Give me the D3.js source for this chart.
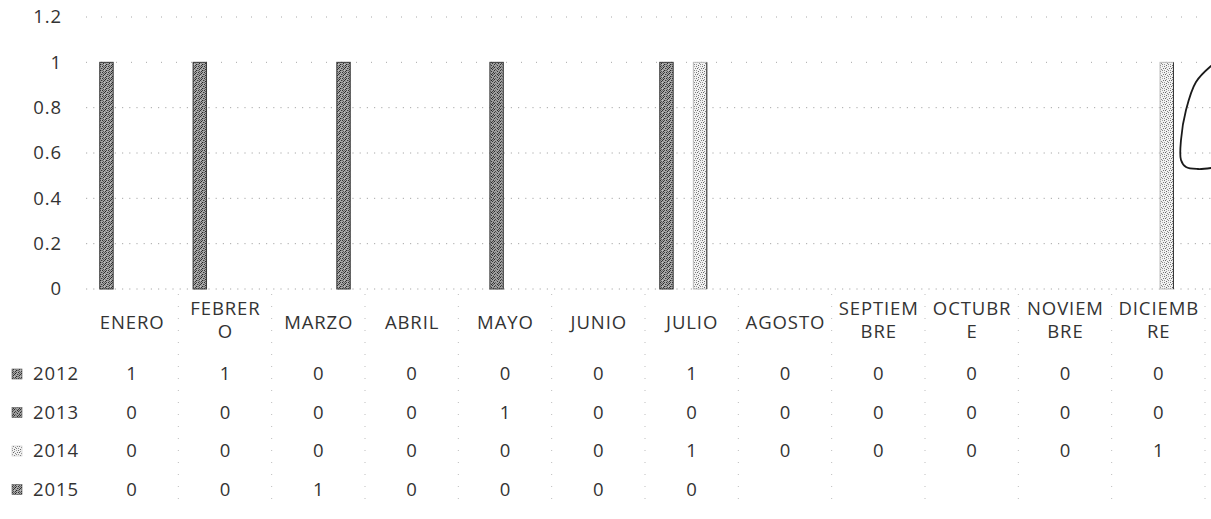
<!DOCTYPE html>
<html><head><meta charset="utf-8">
<script src="https://cdn.jsdelivr.net/npm/d3@7"></script>
<style>
html,body{margin:0;padding:0;background:#fff;}
svg{display:block;font-family:"Open Sans",sans-serif;}
</style></head><body>
<svg id="chart" width="1211" height="519"></svg>
<script>
// Monthly counts per year, shown as clustered columns with a data table underneath
const months = ["ENERO","FEBRERO","MARZO","ABRIL","MAYO","JUNIO","JULIO","AGOSTO","SEPTIEMBRE","OCTUBRE","NOVIEMBRE","DICIEMBRE"];
const monthLabels = [["ENERO"],["FEBRER","O"],["MARZO"],["ABRIL"],["MAYO"],["JUNIO"],["JULIO"],["AGOSTO"],["SEPTIEM","BRE"],["OCTUBR","E"],["NOVIEM","BRE"],["DICIEMB","RE"]];
const years = ["2012","2013","2014","2015"];
const values2012 = [1,1,0,0,0,0,1,0,0,0,0,0];
const values2013 = [0,0,0,0,1,0,0,0,0,0,0,0];
const values2014 = [0,0,0,0,0,0,1,0,0,0,0,1];
const values2015 = [0,0,1,0,0,0,0];
const yTicks = [0,0.2,0.4,0.6,0.8,1,1.2];
const yTickLabels = ["0","0.2","0.4","0.6","0.8","1","1.2"];
// pen annotation at the right edge of the sheet
const handMark = [[1211,66],[1196,82],[1186,110],[1181,140],[1181,160],[1186,167],[1198,169],[1211,168]];

const seriesValues = [values2012, values2013, values2014, values2015];
const seriesFill = ["url(#texDark)","url(#texDark2)","url(#texLight)","url(#texDark)"];

const svg = d3.select("#chart");
const ink = "#333";
const fontSize = 18.5;
const spacing = 0.9;

// textures for the columns
const defs = svg.append("defs");
function texture(id, bg, dots, size) {
  const p = defs.append("pattern").attr("id", id)
    .attr("patternUnits","userSpaceOnUse").attr("width", size).attr("height", size);
  p.append("rect").attr("width", size).attr("height", size).attr("fill", bg);
  dots.forEach(([x,y,c]) => p.append("rect").attr("x",x).attr("y",y).attr("width",1).attr("height",1).attr("fill",c));
}
texture("texDark", "#a8a8a8", [[0,0,"#2e2e2e"],[2,0,"#666"],[1,1,"#555"],[3,1,"#222"],[0,2,"#777"],[2,2,"#333"],[1,3,"#2a2a2a"],[3,3,"#888"],[4,0,"#444"],[5,2,"#3a3a3a"],[4,4,"#222"],[1,5,"#555"],[3,5,"#333"],[5,4,"#777"],[0,4,"#666"],[2,4,"#bbb"]], 6);
texture("texDark2", "#a0a0a0", [[1,0,"#333"],[3,0,"#666"],[0,1,"#444"],[2,1,"#2a2a2a"],[4,1,"#777"],[1,2,"#555"],[5,2,"#222"],[0,3,"#333"],[3,3,"#444"],[2,4,"#2e2e2e"],[4,4,"#666"],[1,5,"#777"],[5,5,"#333"]], 6);
texture("texLight", "#f2f2f2", [[0,0,"#777"],[2,1,"#999"],[1,2,"#666"],[3,3,"#888"],[4,0,"#aaa"],[5,2,"#777"],[0,4,"#999"],[2,5,"#666"],[4,4,"#888"]], 6);

// scales
const x0 = d3.scaleBand().domain(months).range([85, 1205]).paddingInner(0.28).paddingOuter(0.14);
const x1 = d3.scaleBand().domain(years).range([0, x0.bandwidth()]).paddingInner(0.2).paddingOuter(0.1);
const y = d3.scaleLinear().domain([0, 1.2]).range([289, 17]);
const colCenter = m => x0(m) + x0.bandwidth() / 2;

// dotted horizontal gridlines (faint)
svg.append("g").selectAll("line").data(yTicks).join("line")
  .attr("x1", 86).attr("x2", 1211)
  .attr("y1", d => y(d)).attr("y2", d => y(d))
  .attr("stroke", "#a8a8a8").attr("stroke-width", 1)
  .attr("stroke-dasharray", d => d >= 1 ? "1,14" : "1.2,6");

// y axis labels
const yAxis = d3.axisLeft(y).tickValues(yTicks).tickSize(0).tickPadding(0)
  .tickFormat((d, i) => yTickLabels[i]);
const gy = svg.append("g").attr("transform", "translate(62,0)").call(yAxis);
gy.select(".domain").remove();
gy.selectAll("text").attr("font-family", '"Open Sans", sans-serif').attr("font-size", fontSize)
  .attr("font-weight", 400).attr("fill", ink).attr("letter-spacing", spacing);

// columns
const barData = [];
years.forEach((yr, s) => {
  months.forEach((m, i) => {
    const v = seriesValues[s][i];
    if (v != null) barData.push({ yr, s, m, v });
  });
});
const bars = svg.append("g");
bars.selectAll("rect").data(barData.filter(d => d.v > 0)).join("rect")
  .attr("x", d => x0(d.m) + x1(d.yr))
  .attr("y", d => y(d.v))
  .attr("width", x1.bandwidth())
  .attr("height", d => y(0) - y(d.v))
  .attr("fill", d => seriesFill[d.s])
  .attr("stroke", d => d.s === 2 ? "#bdbdbd" : "#3a3a3a")
  .attr("stroke-width", 1);
// darker right edge on the light series
bars.selectAll("line").data(barData.filter(d => d.v > 0 && d.s === 2)).join("line")
  .attr("x1", d => x0(d.m) + x1(d.yr) + x1.bandwidth())
  .attr("x2", d => x0(d.m) + x1(d.yr) + x1.bandwidth())
  .attr("y1", d => y(d.v)).attr("y2", y(0))
  .attr("stroke", "#333").attr("stroke-width", 1);

// data table: very faint cell borders
const tableTop = 294;
const gapHalf = x0.step() * x0.paddingInner() / 2;
const colEdges = months.map(m => x0(m) - gapHalf).slice(1)
  .concat([x0(months[11]) + x0.bandwidth() + gapHalf]);
svg.append("g").selectAll("line").data(colEdges).join("line")
  .attr("x1", d => d).attr("x2", d => d)
  .attr("y1", tableTop).attr("y2", 510)
  .attr("stroke", "#bdbdbd").attr("stroke-dasharray", "1,11");

// month labels (wrapped)
const header = svg.append("g").attr("font-size", fontSize).attr("font-weight", 400).attr("fill", ink)
  .attr("text-anchor", "middle").attr("letter-spacing", spacing);
months.forEach((m, i) => {
  const lines = monthLabels[i];
  const mid = lines.length === 1 ? 323 : 320;
  lines.forEach((t, k) => {
    header.append("text")
      .attr("x", colCenter(m) + spacing / 2)
      .attr("y", mid + (k - (lines.length - 1) / 2) * 23)
      .attr("dy", "0.35em")
      .text(t);
  });
});

// series rows
const rows = svg.append("g").attr("font-size", fontSize).attr("font-weight", 400).attr("fill", ink)
  .attr("letter-spacing", spacing);
years.forEach((yr, s) => {
  const cy = 374 + s * 38.5;
  rows.append("rect").attr("x", 12).attr("y", cy - 5).attr("width", 10).attr("height", 10)
    .attr("fill", seriesFill[s]).attr("stroke", s === 2 ? "#c8c8c8" : "#555").attr("stroke-width", 0.6);
  rows.append("text").attr("x", 33).attr("y", cy).attr("dy", "0.35em").text(yr);
  months.forEach((m, i) => {
    const v = seriesValues[s][i];
    if (v == null) return;
    rows.append("text").attr("x", colCenter(m) + spacing / 2).attr("y", cy).attr("dy", "0.35em")
      .attr("text-anchor", "middle").text(v);
  });
});

// pen annotation
svg.append("path").datum(handMark)
  .attr("d", d3.line().curve(d3.curveCatmullRom))
  .attr("fill", "none").attr("stroke", "#1a1a1a").attr("stroke-width", 1.8)
  .attr("stroke-linecap", "round");
</script>
</body></html>
